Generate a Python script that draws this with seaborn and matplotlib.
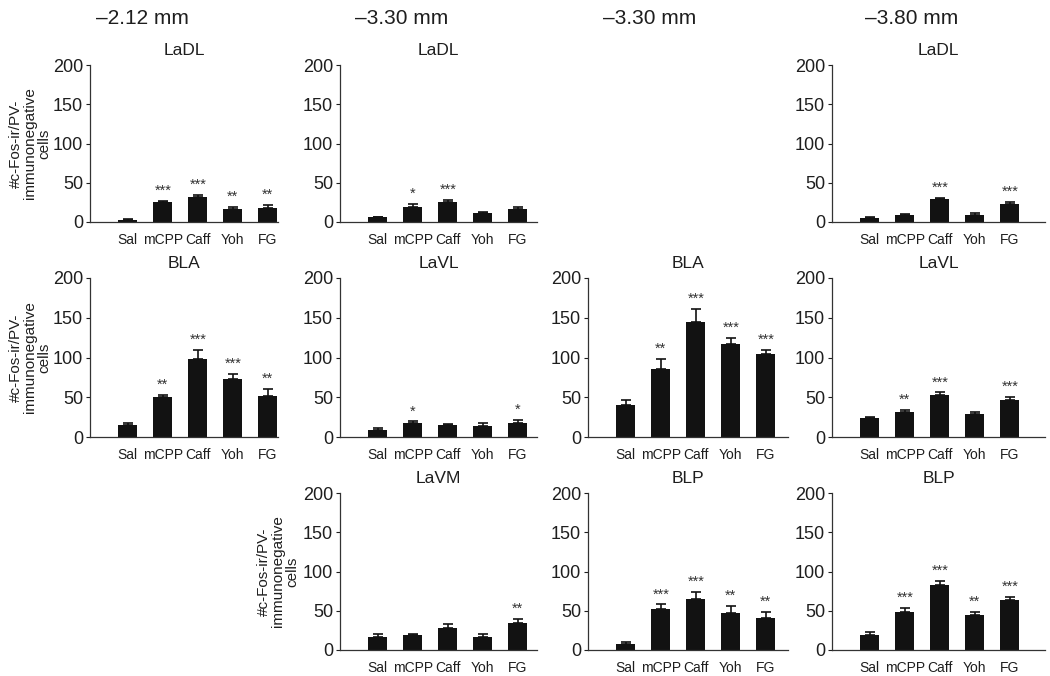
import numpy as np
import pandas as pd
import matplotlib
matplotlib.use("Agg")
import matplotlib.pyplot as plt
import seaborn as sns

sns.set_theme(style="ticks")
plt.rcParams['font.family'] = ['Liberation Sans', 'DejaVu Sans']

groups = ["Sal", "mCPP", "Caff", "Yoh", "FG"]
col_headers = ["\u20132.12 mm", "\u20133.30 mm", "\u20133.30 mm", "\u20133.80 mm"]
ylabel_text = "#c-Fos-ir/PV-\nimmunonegative\ncells"

# Row 1
ladl_212 = [3, 25, 32, 16, 18]
ladl_212_err = [1, 2, 3, 3, 4]
ladl_212_sig = ["", "***", "***", "**", "**"]
ladl_330 = [6, 19, 25, 11, 16]
ladl_330_err = [1, 4, 3, 2, 3]
ladl_330_sig = ["", "*", "***", "", ""]
ladl_380 = [5, 9, 29, 9, 23]
ladl_380_err = [1, 1, 2, 3, 3]
ladl_380_sig = ["", "", "***", "", "***"]

# Row 2
bla_212 = [15, 50, 98, 73, 51]
bla_212_err = [3, 3, 12, 6, 9]
bla_212_sig = ["", "**", "***", "***", "**"]
lavl_330 = [9, 18, 15, 14, 18]
lavl_330_err = [2, 1.5, 1.5, 3, 3]
lavl_330_sig = ["", "*", "", "", "*"]
bla_330 = [40, 85, 145, 117, 104]
bla_330_err = [7, 13, 16, 7, 6]
bla_330_sig = ["", "**", "***", "***", "***"]
lavl_380 = [24, 32, 53, 29, 46]
lavl_380_err = [1, 1.5, 3, 3, 4]
lavl_380_sig = ["", "**", "***", "", "***"]

# Row 3
lavm_330 = [17, 19, 28, 16, 35]
lavm_330_err = [3, 1, 5, 4, 4]
lavm_330_sig = ["", "", "", "", "**"]
blp_330 = [8, 52, 65, 47, 41]
blp_330_err = [2, 6, 9, 9, 7]
blp_330_sig = ["", "***", "***", "**", "**"]
blp_380 = [19, 49, 83, 45, 64]
blp_380_err = [4, 4, 5, 3, 3]
blp_380_sig = ["", "***", "***", "**", "***"]

W, H = 1050, 676
fig = plt.figure(figsize=(W / 100, H / 100), dpi=100)

col_x = [(90, 278), (340, 537), (588, 788), (832, 1045)]
row_y = [(65, 222), (278, 437), (493, 650)]

# (row, col, title, values, errors, significance, ylabel centre x in px or None)
panels = [
    (0, 0, "LaDL", ladl_212, ladl_212_err, ladl_212_sig, 30),
    (0, 1, "LaDL", ladl_330, ladl_330_err, ladl_330_sig, None),
    (0, 3, "LaDL", ladl_380, ladl_380_err, ladl_380_sig, None),
    (1, 0, "BLA", bla_212, bla_212_err, bla_212_sig, 30),
    (1, 1, "LaVL", lavl_330, lavl_330_err, lavl_330_sig, None),
    (1, 2, "BLA", bla_330, bla_330_err, bla_330_sig, None),
    (1, 3, "LaVL", lavl_380, lavl_380_err, lavl_380_sig, None),
    (2, 1, "LaVM", lavm_330, lavm_330_err, lavm_330_sig, 278),
    (2, 2, "BLP", blp_330, blp_330_err, blp_330_sig, None),
    (2, 3, "BLP", blp_380, blp_380_err, blp_380_sig, None),
]

unit_px = 35.0
left_units = 1.08
bar_color = "#121212"
text_color = "#1e1e1e"

for r, c, title, vals, errs, sigs, ylab_x in panels:
    x0, x1 = col_x[c]
    yt, yb = row_y[r]
    ax = fig.add_axes([x0 / W, 1 - yb / H, (x1 - x0) / W, (yb - yt) / H])
    df = pd.DataFrame({"group": groups, "value": vals})
    sns.barplot(data=df, x="group", y="value", order=groups, color=bar_color,
                width=0.55, saturation=1, errorbar=None, ax=ax, linewidth=0)
    pos = np.arange(len(groups))
    ax.errorbar(pos, vals, yerr=[np.zeros(len(errs)), errs], fmt="none",
                ecolor=bar_color, elinewidth=1.2, capsize=3.5, capthick=1.2)
    for i, (v, e, s) in enumerate(zip(vals, errs, sigs)):
        if s:
            ax.text(i, v + e + 4, s, ha="center", va="bottom", fontsize=10.5,
                    color="#333333")
    ax.set_xlim(-left_units, (x1 - x0) / unit_px - left_units)
    ax.set_ylim(0, 200)
    ax.set_yticks([0, 50, 100, 150, 200])
    ax.tick_params(axis="y", labelsize=13, length=3, width=0.8, pad=2, colors=text_color)
    ax.tick_params(axis="x", labelsize=10, length=0, pad=8, colors=text_color)
    ax.set_xlabel("")
    ax.set_ylabel("")
    sns.despine(ax=ax)
    for sp in ["left", "bottom"]:
        ax.spines[sp].set_linewidth(0.9)
        ax.spines[sp].set_color("#333333")
    ax.set_title(title, fontsize=12.5, pad=7, color=text_color)
    if ylab_x is not None:
        ax.set_ylabel(ylabel_text, fontsize=11, color=text_color,
                      linespacing=1.05, va="center", ha="center")
        ax.yaxis.set_label_coords((ylab_x - x0) / (x1 - x0), 0.5)

header_x = [142, 402, 650, 912]
for hx, txt in zip(header_x, col_headers):
    fig.text(hx / W, 1 - 18 / H, txt, ha="center", va="center", fontsize=15,
             color=text_color)

fig.savefig("out.png", dpi=100)
